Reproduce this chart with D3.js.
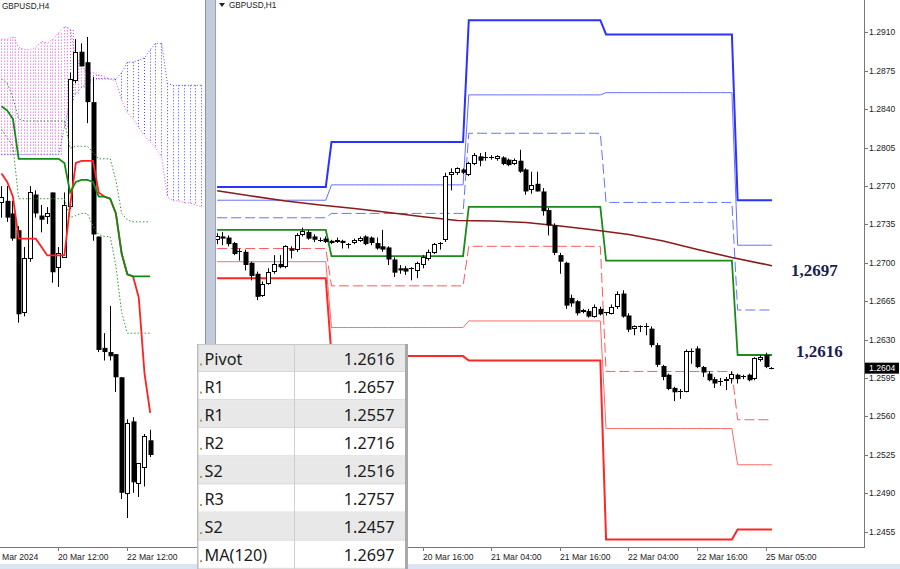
<!DOCTYPE html>
<html><head><meta charset="utf-8">
<script src="https://cdn.jsdelivr.net/npm/d3@7"></script>
<style>
html,body{margin:0;padding:0;background:#fff;overflow:hidden;}
svg{display:block;}
</style></head><body>
<svg id="c" width="900" height="569"></svg>
<script>
// ---------------- DATA ----------------
// H1 chart (GBPUSD,H1): bar 0 = 19 Mar 04:00
const h1Ohlc = [
[1.2720,1.2727,1.2717,1.2724],[1.2724,1.2728,1.2716,1.2722],[1.2723,1.2725,1.2715,1.2717],[1.2718,1.2719,1.2707,1.2708],
[1.2711,1.2713,1.2702,1.2710],[1.2710,1.2712,1.2693,1.2698],[1.2700,1.2701,1.2684,1.2688],[1.2690,1.2692,1.2666,1.2669],
[1.2670,1.2683,1.2669,1.2681],[1.2681,1.2695,1.2680,1.2692],[1.2692,1.2707,1.2690,1.2699],[1.2699,1.2707,1.2695,1.2696],
[1.2696,1.2716,1.2695,1.2715],[1.2713,1.2715,1.2704,1.2711],[1.2711,1.2727,1.2710,1.2725],[1.2725,1.2732,1.2724,1.2729],
[1.2728,1.2730,1.2721,1.2722],[1.2724,1.2726,1.2719,1.2721],[1.2721,1.2723,1.2719,1.2720],[1.2722,1.2724,1.2718,1.2719],
[1.2720,1.2721,1.2717,1.2718],[1.2719,1.2723,1.2718,1.2721],[1.2720,1.2721,1.2713,1.2718],[1.2717,1.2718,1.2713,1.2716],
[1.2718,1.2722,1.2717,1.2721],[1.2720,1.2724,1.2719,1.2723],[1.2724,1.2725,1.2716,1.2717],[1.2723,1.2724,1.2716,1.2718],
[1.2718,1.2723,1.2712,1.2713],[1.2715,1.2730,1.2710,1.2712],[1.2714,1.2715,1.2698,1.2703],[1.2703,1.2705,1.2687,1.2691],
[1.2695,1.2698,1.2690,1.2693],[1.2695,1.2697,1.2689,1.2692],[1.2694,1.2696,1.2684,1.2695],[1.2693,1.2701,1.2686,1.2700],
[1.2698,1.2707,1.2695,1.2705],[1.2704,1.2712,1.2702,1.2710],[1.2709,1.2718,1.2708,1.2717],[1.2717,1.2719,1.2712,1.2718],
[1.2721,1.2782,1.2719,1.2779],[1.2780,1.2786,1.2766,1.2783],[1.2781,1.2787,1.2780,1.2786],[1.2785,1.2786,1.2781,1.2782],
[1.2780,1.2792,1.2779,1.2791],[1.2790,1.2800,1.2789,1.2798],[1.2797,1.2800,1.2788,1.2793],[1.2796,1.2801,1.2793,1.2795],
[1.2796,1.2798,1.2794,1.2795],[1.2794,1.2798,1.2793,1.2797],[1.2796,1.2797,1.2789,1.2790],[1.2794,1.2795,1.2788,1.2789],
[1.2790,1.2795,1.2789,1.2794],[1.2793,1.2803,1.2782,1.2783],[1.2785,1.2786,1.2762,1.2765],[1.2766,1.2783,1.2763,1.2771],
[1.2772,1.2783,1.2765,1.2765],[1.2765,1.2768,1.2743,1.2747],[1.2748,1.2750,1.2725,1.2734],[1.2734,1.2736,1.2707,1.2709],
[1.2707,1.2709,1.2690,1.2701],[1.2700,1.2701,1.2658,1.2661],[1.2668,1.2671,1.2660,1.2663],[1.2665,1.2666,1.2652,1.2654],
[1.2655,1.2658,1.2654,1.2657],[1.2656,1.2658,1.2650,1.2651],[1.2651,1.2662,1.2650,1.2660],[1.2658,1.2660,1.2652,1.2653],
[1.2654,1.2655,1.2652,1.2655],[1.2654,1.2662,1.2653,1.2660],[1.2660,1.2674,1.2658,1.2672],[1.2672,1.2675,1.2650,1.2651],
[1.2652,1.2654,1.2637,1.2639],[1.2639,1.2643,1.2634,1.2642],[1.2642,1.2643,1.2637,1.2641],[1.2642,1.2645,1.2634,1.2641],
[1.2640,1.2642,1.2623,1.2625],[1.2625,1.2627,1.2605,1.2607],[1.2606,1.2607,1.2593,1.2596],[1.2598,1.2599,1.2584,1.2585],
[1.2586,1.2587,1.2574,1.2582],[1.2583,1.2585,1.2576,1.2582],[1.2583,1.2621,1.2582,1.2620],[1.2619,1.2622,1.2608,1.2620],
[1.2622,1.2624,1.2604,1.2605],[1.2605,1.2606,1.2596,1.2600],[1.2599,1.2601,1.2592,1.2593],[1.2594,1.2596,1.2586,1.2590],
[1.2592,1.2595,1.2588,1.2591],[1.2592,1.2596,1.2584,1.2594],[1.2594,1.2601,1.2590,1.2599],[1.2598,1.2599,1.2590,1.2594],
[1.2596,1.2598,1.2594,1.2597],[1.2598,1.2599,1.2592,1.2593],[1.2594,1.2614,1.2593,1.2613],[1.2611,1.2616,1.2610,1.2614],
[1.2616,1.2618,1.2604,1.2605],[1.2604,1.2605,1.2603,1.2604]
];
// daily pivot levels: days start at these H1 bar indices (19,20,21,22,25 Mar)
const dayStart = [0, 20, 44, 68, 91];
const levR3 = [1.2769, 1.2810, 1.2921, 1.2908, 1.2757];
const levR2 = [1.2757, 1.2771, 1.2853, 1.2855, 1.2716];
const levR1 = [1.2741, 1.2745, 1.2818, 1.2755, 1.2657];
const levPivot = [1.2730, 1.2706, 1.2751, 1.2702, 1.2616];
const levS1 = [1.2713, 1.2679, 1.2715, 1.2601, 1.2557];
const levS2 = [1.2701, 1.2641, 1.2647, 1.2549, 1.2516];
const levS3 = [1.2686, 1.2615, 1.2611, 1.2448, 1.2457];
// MA(120) read every 6 bars
const maIdx = [0,6,12,18,24,30,36,42,48,54,60,66,72,78,84,90,96,97];
const maVal = [1.27657,1.27609,1.27563,1.27527,1.27495,1.27458,1.2742,1.27385,1.27381,1.27367,1.27335,1.27299,1.27258,1.27199,1.27121,1.27048,1.26984,1.26973];
const h1Ticks = [1.2455,1.2490,1.2525,1.2560,1.2595,1.2630,1.2665,1.2700,1.2735,1.2770,1.2805,1.2840,1.2875,1.2910];
const h1TimeIdx = [36, 48, 60, 72, 84, 96];
const h1TimeLabels = ["20 Mar 16:00","21 Mar 04:00","21 Mar 16:00","22 Mar 04:00","22 Mar 16:00","25 Mar 05:00"];
const lastPrice = 1.2604;
const noteValues = [1.2697, 1.2616];
const noteLabels = ["1,2697", "1,2616"];

// H4 chart (GBPUSD,H4): index 0 = 20 Mar 12:00, first bar -10
const h4First = -10;
const h4Ohlc = [
[1.2724,1.2732,1.2717,1.2727],[1.2725,1.2732,1.2715,1.2717],[1.2719,1.2725,1.2706,1.2707],[1.2711,1.2713,1.2667,1.2671],
[1.2672,1.2703,1.2670,1.2698],[1.2697,1.2732,1.2696,1.2729],[1.2728,1.2730,1.2717,1.2719],[1.2718,1.2723,1.2710,1.2716],
[1.2717,1.2722,1.2714,1.2719],[1.2729,1.2729,1.2686,1.2691],[1.2693,1.2703,1.2684,1.2700],[1.2698,1.2729,1.2698,1.2723],
[1.2722,1.2786,1.2721,1.2783],[1.2782,1.2802,1.2781,1.2796],[1.2796,1.2800,1.2789,1.2789],[1.2791,1.2803,1.2762,1.2772],
[1.2772,1.2784,1.2706,1.2709],[1.2708,1.2708,1.2653,1.2654],[1.2655,1.2662,1.2649,1.2653],[1.2653,1.2675,1.2649,1.2651],
[1.2652,1.2652,1.2634,1.2641],[1.2641,1.2641,1.2583,1.2586],[1.2585,1.2621,1.2574,1.2619],[1.2620,1.2622,1.2586,1.2591],
[1.2590,1.2600,1.2584,1.2600],[1.2598,1.2614,1.2589,1.2613],[1.2611,1.2616,1.2603,1.2604]
];
const h4Tenkan = [1.2738,1.2734,1.2727,1.2707,1.2707,1.2707,1.2707,1.2703,1.2699,1.2699,1.2699,1.2699,1.2723,1.2743,1.2744,1.2744,1.2744,1.2729,1.2727,1.2726,1.2719,1.2700,1.2690,1.2689,1.2679,1.2643,1.2624];
const h4Kijun = [1.2770,1.2768,1.2764,1.2745,1.2745,1.2745,1.2745,1.2745,1.2745,1.2745,1.2745,1.2743,1.2729,1.2734,1.2735,1.2735,1.2734,1.2727,1.2727,1.2726,1.2719,1.2700,1.2690,1.2689,1.2689,1.2689,1.2689];
const h4Upper = [1.2783,1.2781,1.2774,1.2764,1.2763,1.2763,1.2763,1.2763,1.2763,1.2763,1.2763,1.2763,1.2750,1.2751,1.2751,1.2751,1.2748,1.2745,1.2745,1.2745,1.2735,1.2719,1.2716,1.2715,1.2715,1.2715,1.2715];
const h4Lower = [1.2759,1.2755,1.2751,1.2726,1.2726,1.2726,1.2726,1.2726,1.2726,1.2726,1.2726,1.2726,1.2717,1.2718,1.2719,1.2719,1.2713,1.2709,1.2708,1.2708,1.2694,1.2672,1.2662,1.2662,1.2662,1.2662,1.2662];
const h4SpanA = [1.2747,1.2747,1.2747,1.2747,1.2747,1.2747,1.2747,1.2747,1.2747,1.2747,1.2747,1.2760,1.2773,1.2776,1.2779,1.2781,1.2783,1.2783,1.2783,1.2783,1.2783,1.2786,1.2791,1.2791,1.2792,1.2793,1.2797,1.2800,1.2800,1.2781,1.2780,1.2780,1.2780,1.2780,1.2780,1.2780];
const h4SpanB = [1.2802,1.2802,1.2803,1.2798,1.2797,1.2797,1.2798,1.2801,1.2800,1.2802,1.2805,1.2808,1.2807,1.2792,1.2789,1.2786,1.2786,1.2785,1.2784,1.2783,1.2782,1.2773,1.2767,1.2764,1.2760,1.2756,1.2753,1.2750,1.2746,1.2727,1.2725,1.2725,1.2724,1.2724,1.2723,1.2722];
const h4TimeIdx = [0, 12];
const h4TimeLabels = ["20 Mar 12:00", "22 Mar 12:00"];
const h4MonthLabel = "Mar 2024";

// table
const tableLabels = ["Pivot","R1","R1","R2","S2","R3","S2","MA(120)"];
const tableValues = ["1.2616","1.2657","1.2557","1.2716","1.2516","1.2757","1.2457","1.2697"];

// ---------------- DRAW ----------------
const svg = d3.select('#c');
const AX = 'Liberation Sans, Arial, sans-serif';
svg.append('rect').attr('width',900).attr('height',569).attr('fill','#fff');

const defs = svg.append('defs');
defs.append('clipPath').attr('id','clipL').append('rect').attr('x',0).attr('y',0).attr('width',205).attr('height',547);
defs.append('clipPath').attr('id','clipR').append('rect').attr('x',216).attr('y',0).attr('width',648).attr('height',547);

function drawCandles(g, data, xf, yf, i0) {
  data.forEach((d, k) => {
    const [o,h,l,c] = d;
    const xc = Math.floor(xf(k + i0));
    g.append('rect').attr('x',xc).attr('y',yf(h)).attr('width',1).attr('height',Math.max(1,yf(l)-yf(h))).attr('fill','#000');
    const top = yf(Math.max(o,c)), bot = yf(Math.min(o,c));
    const hh = bot - top;
    if (hh < 1.2) {
      g.append('rect').attr('x',xc-2).attr('y',Math.round(top)).attr('width',5).attr('height',1).attr('fill','#000');
    } else if (c > o) {
      g.append('rect').attr('x',xc-1.5).attr('y',Math.round(top)+0.5).attr('width',4).attr('height',Math.max(1,Math.round(hh)-1))
        .attr('fill','#fff').attr('stroke','#000').attr('stroke-width',1);
    } else {
      g.append('rect').attr('x',xc-1.5).attr('y',top).attr('width',5).attr('height',hh).attr('fill','#000');
    }
  });
}

// ===== LEFT PANEL (H4) =====
const xL = d3.scaleLinear().domain([0,16]).range([58.7,150.2]);
const yL = d3.scaleLinear().domain([1.2574,1.2803]).range([518,37]);
const gL = svg.append('g').attr('clip-path','url(#clipL)');

// cloud columns (dotted histogram between Span A and Span B)
h4SpanA.forEach((a, k) => {
  const b = h4SpanB[k];
  const x = Math.floor(xL(k + h4First)) + 0.5;
  const magenta = b >= a;
  const col = magenta ? '#f04cf0' : '#4a4aff';
  const offs = magenta ? [0, 3] : [0];
  offs.forEach(dx => {
    gL.append('line').attr('x1',x+dx).attr('x2',x+dx).attr('y1',yL(a)).attr('y2',yL(b))
      .attr('stroke', col).attr('stroke-width',1).attr('stroke-dasharray','1,2');
  });
});
const lineL = arr => d3.line().x((d,k)=>xL(k + h4First)).y(d=>yL(d))(arr);
gL.append('path').attr('d',lineL(h4SpanB)).attr('fill','none').attr('stroke','#f04cf0').attr('stroke-width',1).attr('stroke-dasharray','1,2');
gL.append('path').attr('d',lineL(h4SpanA)).attr('fill','none').attr('stroke','#4a4aff').attr('stroke-width',1).attr('stroke-dasharray','1,2');

drawCandles(gL, h4Ohlc, xL, yL, h4First);

gL.append('path').attr('d',lineL(h4Upper)).attr('fill','none').attr('stroke','#2f9a2f').attr('stroke-width',1).attr('stroke-dasharray','1.5,2');
gL.append('path').attr('d',lineL(h4Lower)).attr('fill','none').attr('stroke','#2f9a2f').attr('stroke-width',1).attr('stroke-dasharray','1.5,2');
gL.append('path').attr('d',lineL(h4Tenkan)).attr('fill','none').attr('stroke','#ff2020').attr('stroke-width',1.8);
gL.append('path').attr('d',lineL(h4Kijun)).attr('fill','none').attr('stroke','#138a13').attr('stroke-width',1.8);

svg.append('text').attr('x',2).attr('y',9).attr('font-family',AX).attr('font-size',8.2).attr('fill','#222').text('GBPUSD,H4');

// left bottom axis
svg.append('rect').attr('x',0).attr('y',547).attr('width',205).attr('height',1).attr('fill','#777');
svg.append('text').attr('x',2).attr('y',560).attr('font-family',AX).attr('font-size',8.6).attr('fill','#222').text(h4MonthLabel);
h4TimeIdx.forEach((t,k) => {
  const x = Math.floor(xL(t));
  svg.append('rect').attr('x',x).attr('y',548).attr('width',1).attr('height',3).attr('fill','#777');
  svg.append('text').attr('x',x).attr('y',560).attr('font-family',AX).attr('font-size',8.6).attr('fill','#222').text(h4TimeLabels[k]);
});

// divider strip between windows
svg.append('rect').attr('x',205).attr('y',0).attr('width',1).attr('height',569).attr('fill','#8a93a6');
svg.append('rect').attr('x',206).attr('y',0).attr('width',9).attr('height',569).attr('fill','#c4cbdb');
svg.append('rect').attr('x',215).attr('y',0).attr('width',1).attr('height',569).attr('fill','#9aa2b3');

// ===== RIGHT PANEL (H1) =====
const N = h1Ohlc.length;
const xR = d3.scaleLinear().domain([0, N-1]).range([217.1, 217.1 + 5.72*(N-1)]);
const yR = d3.scaleLinear().domain([1.2455, 1.2910]).range([531.7, 32.3]);
const gR = svg.append('g').attr('clip-path','url(#clipR)');

function expand(levels) {
  return d3.range(N).map(i => levels[d3.bisectRight(dayStart, i) - 1]);
}
const lineR = d3.line().x((d,i)=>xR(i)).y(d=>yR(d));
const levelStyles = [
  [levR3, '#2a32ff', 2, null],
  [levR2, '#6470ff', 1, null],
  [levR1, '#6470ff', 1, '10,4'],
  [levS3, '#ff2626', 2, null],
  [levS2, '#ff6a6a', 1, null],
  [levS1, '#ff5a5a', 1, '10,4'],
  [levPivot, '#1a8a1a', 1.8, null]
];
levelStyles.forEach(([lv, col, w, dash]) => {
  const p = gR.append('path').attr('d', lineR(expand(lv))).attr('fill','none').attr('stroke',col).attr('stroke-width',w);
  if (dash) p.attr('stroke-dasharray', dash);
});
gR.append('path').attr('d', d3.line().x((d,k)=>xR(maIdx[k])).y(d=>yR(d))(maVal))
  .attr('fill','none').attr('stroke','#8b1a1a').attr('stroke-width',1.6);

drawCandles(gR, h1Ohlc, xR, yR, 0);

// notes
noteValues.forEach((v,k) => {
  svg.append('text').attr('x', k===0 ? 791 : 796).attr('y', yR(v) + (k===0 ? 10 : 2.5))
    .attr('font-family','Liberation Serif, Times New Roman, serif').attr('font-weight','bold').attr('font-size',17)
    .attr('fill','#1b2152').text(noteLabels[k]);
});

// title
svg.append('path').attr('d','M219,3 L225,3 L222,7 Z').attr('fill','#222');
svg.append('text').attr('x',229).attr('y',8).attr('font-family',AX).attr('font-size',8.2).attr('fill','#222').text('GBPUSD,H1');

// right axis
svg.append('rect').attr('x',864).attr('y',0).attr('width',1).attr('height',548).attr('fill','#777');
h1Ticks.forEach(v => {
  const y = Math.round(yR(v));
  svg.append('rect').attr('x',865).attr('y',y).attr('width',3).attr('height',1).attr('fill','#777');
  svg.append('text').attr('x',869).attr('y',y+3).attr('font-family',AX).attr('font-size',8.6).attr('fill','#222').text(v.toFixed(4));
});
const yp = yR(lastPrice);
svg.append('rect').attr('x',865).attr('y',yp-5.5).attr('width',34).attr('height',11).attr('fill','#000');
svg.append('text').attr('x',869).attr('y',yp+3).attr('font-family',AX).attr('font-size',8.6).attr('fill','#fff').text(lastPrice.toFixed(4));

// bottom axis right
svg.append('rect').attr('x',216).attr('y',547).attr('width',649).attr('height',1).attr('fill','#777');
h1TimeIdx.forEach((t,k) => {
  const x = Math.floor(xR(t));
  svg.append('rect').attr('x',x).attr('y',548).attr('width',1).attr('height',3).attr('fill','#777');
  svg.append('text').attr('x',x).attr('y',560).attr('font-family',AX).attr('font-size',8.6).attr('fill','#222').text(h1TimeLabels[k]);
});

// bottom window strip
svg.append('rect').attr('x',0).attr('y',564).attr('width',900).attr('height',5).attr('fill','#dbe4f1');

// ===== TABLE =====
const tX = 197, tW = 211, tY = 344, rowH = 28.1, colX = 294;
const gT = svg.append('g');
gT.append('rect').attr('x',tX).attr('y',tY).attr('width',tW).attr('height',569-tY).attr('fill','#fff');
tableLabels.forEach((lab,k) => {
  const y0 = tY + k*rowH;
  gT.append('rect').attr('x',tX).attr('y',y0).attr('width',tW-3).attr('height',rowH)
    .attr('fill', k%2===0 ? '#e8e8e8' : '#ffffff');
  gT.append('rect').attr('x',tX).attr('y',y0+rowH-1).attr('width',tW-3).attr('height',1).attr('fill','#d6d6d6');
  gT.append('rect').attr('x',200).attr('y',y0+19.5).attr('width',2).attr('height',2).attr('fill','#b89a55');
  gT.append('text').attr('x',204.5).attr('y',y0+20.5).attr('font-family','Noto Sans, Open Sans, sans-serif')
    .attr('font-size',16.2).attr('fill','#1a1a1a').text(lab);
  gT.append('text').attr('x',394.5).attr('y',y0+20.5).attr('text-anchor','end').attr('font-family','Noto Sans, Open Sans, sans-serif')
    .attr('font-size',16.2).attr('fill','#1a1a1a').text(tableValues[k]);
});
gT.append('rect').attr('x',colX).attr('y',tY).attr('width',1).attr('height',569-tY).attr('fill','#cfcfcf');
gT.append('rect').attr('x',tX).attr('y',tY).attr('width',tW).attr('height',1).attr('fill','#c8c8c8');
gT.append('rect').attr('x',tX).attr('y',tY).attr('width',1.5).attr('height',569-tY).attr('fill','#bdbdbd');
gT.append('rect').attr('x',tX+tW-3).attr('y',tY).attr('width',3).attr('height',569-tY).attr('fill','#a9a9a9');
</script></body></html>
